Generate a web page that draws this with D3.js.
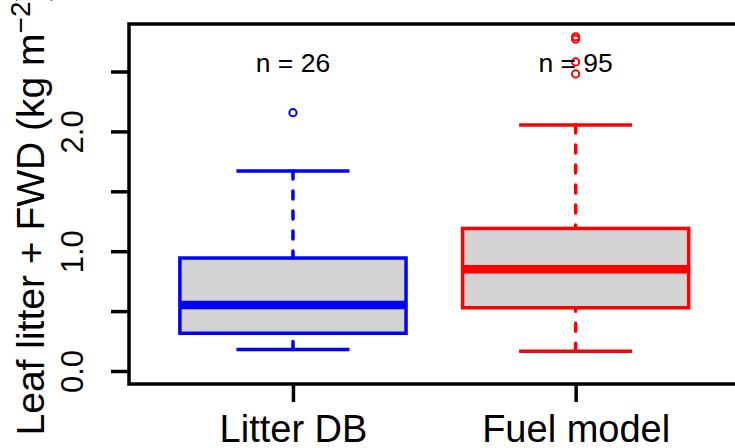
<!DOCTYPE html>
<html>
<head>
<meta charset="utf-8">
<script src="https://cdn.jsdelivr.net/npm/d3@7"></script>
<style>
  body { margin: 0; background: #fff; }
  svg { display: block; }
  text { font-family: "Liberation Sans", Arial, sans-serif; fill: #000; }
</style>
</head>
<body>
<svg id="chart" width="735" height="448"></svg>
<script>
// Groups and their sample sizes
const groups = ["Litter DB", "Fuel model"];
const counts = [26, 95];
const colors = ["#0000FF", "#FF0000"];

// Box statistics per group (kg m-2)
const lowerWhisker = [0.18, 0.165];
const q1 = [0.315, 0.528];
const median = [0.551, 0.849];
const q3 = [0.943, 1.19];
const upperWhisker = [1.67, 2.053];
const outliers = [[2.156], [2.48, 2.58, 2.77, 2.79]];

// Y axis ticks
const yTicks = [0, 0.5, 1, 1.5, 2, 2.5];
const yTickLabels = ["0.0", "", "1.0", "", "2.0", ""];

const svg = d3.select("#chart");
const W = 735, H = 448;
const plot = { left: 129, right: 739.6, top: 24, bottom: 384 };

const x = d3.scaleLinear().domain([0.42, 2.58]).range([plot.left, plot.right]);
const y = d3.scaleLinear().domain([0, 2.5]).range([371, 71.5]);

svg.append("rect").attr("width", W).attr("height", H).attr("fill", "#fff");

const boxHalf = 0.4, capHalf = 0.2;
const data = groups.map((g, i) => ({
  name: g, pos: i + 1, n: counts[i], color: colors[i],
  lo: lowerWhisker[i], q1: q1[i], med: median[i], q3: q3[i], hi: upperWhisker[i],
  out: outliers[i]
}));

const g = svg.append("g");
const box = g.selectAll("g.box").data(data).join("g").attr("class", "box");

// dashed whiskers, drawn from each cap towards the box
box.append("line")
  .attr("x1", d => x(d.pos)).attr("x2", d => x(d.pos))
  .attr("y1", d => y(d.hi)).attr("y2", d => y(d.q3))
  .attr("stroke", d => d.color).attr("stroke-width", 3.5)
  .attr("stroke-dasharray", "8,12").attr("stroke-linecap", "round");
box.append("line")
  .attr("x1", d => x(d.pos)).attr("x2", d => x(d.pos))
  .attr("y1", d => y(d.lo)).attr("y2", d => y(d.q1))
  .attr("stroke", d => d.color).attr("stroke-width", 3.5)
  .attr("stroke-dasharray", "8,12").attr("stroke-linecap", "round");

// whisker caps
["hi", "lo"].forEach(k => {
  box.append("line")
    .attr("x1", d => x(d.pos - capHalf)).attr("x2", d => x(d.pos + capHalf))
    .attr("y1", d => y(d[k])).attr("y2", d => y(d[k]))
    .attr("stroke", d => d.color).attr("stroke-width", 3.5);
});

// boxes
box.append("rect")
  .attr("x", d => x(d.pos - boxHalf))
  .attr("width", d => x(d.pos + boxHalf) - x(d.pos - boxHalf))
  .attr("y", d => y(d.q3))
  .attr("height", d => y(d.q1) - y(d.q3))
  .attr("fill", "#D3D3D3")
  .attr("stroke", d => d.color).attr("stroke-width", 3.5);

// medians
box.append("line")
  .attr("x1", d => x(d.pos - boxHalf)).attr("x2", d => x(d.pos + boxHalf))
  .attr("y1", d => y(d.med)).attr("y2", d => y(d.med))
  .attr("stroke", d => d.color).attr("stroke-width", 8.5);

// outliers
box.each(function(d) {
  d3.select(this).selectAll("circle").data(d.out).join("circle")
    .attr("cx", x(d.pos)).attr("cy", v => y(v)).attr("r", 3.6)
    .attr("fill", "none").attr("stroke", d.color).attr("stroke-width", 2);
});

// sample size labels
g.selectAll("text.n").data(data).join("text").attr("class", "n")
  .attr("x", d => x(d.pos)).attr("y", 71.5)
  .attr("text-anchor", "middle").attr("font-size", 26.5)
  .text(d => "n = " + d.n);

// frame
svg.append("rect")
  .attr("x", plot.left).attr("y", plot.top)
  .attr("width", plot.right - plot.left).attr("height", plot.bottom - plot.top)
  .attr("fill", "none").attr("stroke", "#000").attr("stroke-width", 3.5);

// y axis
const yAxis = svg.append("g").attr("transform", `translate(${plot.left},0)`)
  .call(d3.axisLeft(y).tickValues(yTicks).tickSize(18).tickPadding(0)
    .tickFormat((d, i) => yTickLabels[i]));
yAxis.select(".domain").remove();
yAxis.selectAll(".tick line").attr("stroke", "#000").attr("stroke-width", 3.5);
yAxis.selectAll(".tick text")
  .attr("font-size", 31).attr("font-family", "Liberation Sans, Arial, sans-serif")
  .attr("fill", "#000")
  .attr("text-anchor", "middle").attr("dy", null)
  .attr("x", null).attr("y", null)
  .attr("transform", "translate(-46,0) rotate(-90)");

// x axis
const xAxis = svg.append("g").attr("transform", `translate(0,${plot.bottom})`)
  .call(d3.axisBottom(x).tickValues([1, 2]).tickSize(18).tickPadding(0)
    .tickFormat((d, i) => groups[i]));
xAxis.select(".domain").remove();
xAxis.selectAll(".tick line").attr("stroke", "#000").attr("stroke-width", 3.5);
xAxis.selectAll(".tick text")
  .attr("font-size", 38).attr("font-family", "Liberation Sans, Arial, sans-serif")
  .attr("fill", "#000").attr("dy", null).attr("y", 57.5);

// y axis title
const title = svg.append("text")
  .attr("transform", `translate(44,212) rotate(-90)`)
  .attr("text-anchor", "middle").attr("font-size", 39);
title.append("tspan").text("Leaf litter + FWD (kg m");
title.append("tspan").attr("font-size", 28).attr("dy", -14).text("\u22122");
title.append("tspan").attr("dy", 14).text(")");
</script>
</body>
</html>
